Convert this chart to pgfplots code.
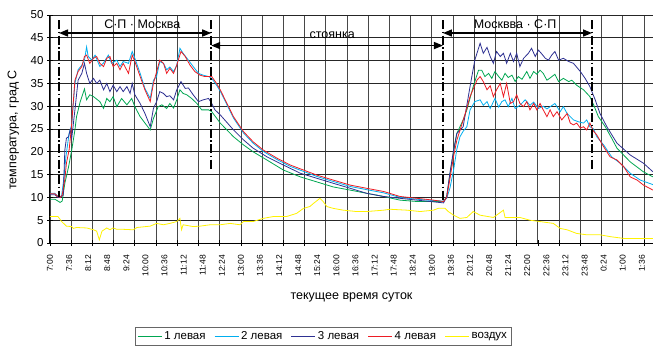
\documentclass[border=0pt]{standalone}
\usepackage{fontspec}
\setmainfont{Liberation Sans}
\usepackage{pgfplots}
\pgfplotsset{compat=1.18}
\usetikzlibrary{arrows.meta}
\definecolor{cgreen}{RGB}{0,166,81}
\definecolor{ccyan}{RGB}{0,174,239}
\definecolor{cblue}{RGB}{46,49,146}
\definecolor{cred}{RGB}{237,28,36}
\definecolor{cyellow}{RGB}{255,242,0}
\begin{document}
\begin{tikzpicture}
\begin{axis}[
  scale only axis, width=603pt, height=228pt,
  xmin=0, xmax=1137, ymin=0, ymax=50,
  axis x line*=bottom, axis y line*=left,
  axis line style={-, black, line width=1pt},
  xtick={0,36,...,1116},
  xticklabels={7:00,7:36,8:12,8:48,9:24,10:00,10:36,11:12,11:48,12:24,13:00,13:36,14:12,14:48,15:24,16:00,16:36,17:12,17:48,18:24,19:00,19:36,20:12,20:48,21:24,22:00,22:36,23:12,23:48,0:24,1:00,1:36},
  xticklabel style={rotate=90, anchor=east, font=\fontsize{8.5}{10}\selectfont, inner sep=1pt},
  xticklabel shift=8pt,
  major x tick style={draw=none},
  minor xtick={0,40,...,1120},
  xminorgrids=true, xmajorgrids=false,
  minor x grid style={black!72, line width=0.85pt},
  minor tick length=6pt, major tick length=6pt,
  ytick={0,5,...,50}, ymajorgrids=true,
  major y grid style={black!85, line width=0.85pt},
  tick align=center, tick style={black, line width=0.8pt},
  yticklabel style={font=\fontsize{11.5}{13}\selectfont},
  /pgf/number format/assume math mode=true,
  xlabel={текущее время суток},
  ylabel={температура, град С},
  label style={font=\fontsize{12.5}{14}\selectfont},
  xlabel style={at={(axis description cs:0.5,-0.24)}, anchor=center},
  ylabel style={at={(axis description cs:-0.061,0.496)}, anchor=center},
  legend columns=5,
  legend style={at={(axis description cs:0.141,-0.37)}, anchor=north west, draw=black!60, line width=0.6pt, font=\fontsize{11.5}{13}\selectfont, inner sep=2pt, /tikz/every even column/.append style={column sep=6.5pt}},
  legend image code/.code={\draw[#1, line width=1pt] (0pt,0pt) -- (24pt,0pt);},
  every axis plot/.append style={line width=0.8pt},
]
\addplot[cgreen] coordinates {
(0,9.6)(9,9.6)(15,9.2)(19,8.9)(23,9.2)(28,13.1)(35,16.7)(41,20.4)(44,22.6)(47,24.8)(50,27.7)(57,31)(65,33.8)(69,31.4)(75,32.5)(82,32.1)(94,31)(101,29.5)(107,31.7)(113,31)(119,32.1)(126,29.9)(135,31.7)(145,30.3)(154,31.7)(160,29.9)(170,27.7)(179,26.3)(189,24.8)(195,27.3)(204,29.9)(211,30.3)(220,29.5)(226,30.6)(233,29.6)(239,31.4)(245,33.6)(251,32.8)(258,32.5)(267,31.7)(277,30.6)(286,29.2)(299,29.2)(305,28.8)(321,26.3)(346,23.3)(365,21.5)(383,20)(409,18.2)(440,16)(472,14.5)(503,13.4)(534,12.3)(566,11.6)(597,10.9)(629,10.2)(660,9.4)(692,9.1)(742,9.1)
(748,10.2)(754,15)(761,20)(767,24)(779,27)(786,29.2)(798,34.3)(808,37.9)(814,37.9)(820,36.5)(827,37.2)(833,36.1)(839,37.6)(846,36.5)(852,35.7)(858,37.2)(864,36.3)(871,36.8)(877,35.4)(883,36.5)(890,35.9)(899,37.6)(905,36.1)(912,37.6)(918,37)(924,37.9)(930,37.2)(937,35.7)(943,36.2)(952,37)(959,35.4)(968,36.1)(978,35.4)(984,35.7)(993,34.6)(1006,33.6)(1018,32.1)(1025,30.3)(1034,27.7)(1047,25.5)(1059,23)(1069,20.8)(1094,17.8)(1119,15.6)(1137,14.5)
};
\addlegendentry{1 левая}
\addplot[ccyan] coordinates {
(0,10.9)(9,10.9)(15,10.2)(19,10)(22,10.5)(26,14)(30,18.9)(36,24)(41,26)(47,35)(53,38)(60,39)(65,40.1)(69,43)(72,40.9)(79,40.1)(85,41.2)(94,38.7)(101,39.5)(110,41.2)(116,39.4)(126,40.1)(132,38.7)(138,39.8)(148,39.4)(155,42)(160,40.5)(170,37.2)(179,33.9)(189,31.7)(195,35.7)(201,36.5)(207,39.8)(214,39.4)(220,38)(226,38.6)(233,37.6)(239,39)(245,42.7)(251,41.6)(261,40.1)(270,38.7)(280,37.2)(289,36.8)(299,36.5)(305,36.1)(314,34.6)(321,33.3)(346,27.4)(365,24.1)(383,21.9)(402,20.1)(428,18.3)(453,16.8)(478,15.7)(503,14.6)(534,13.5)(566,12.4)(597,11.7)(629,11)(660,10)(692,9.6)(723,9.3)(742,9.2)
(748,9.8)(754,12)(761,16)(767,20.5)(773,23.3)(779,24.5)(786,25.5)(792,29.2)(801,31)(811,31.4)(817,30.2)(824,31)(830,29.5)(839,31.7)(846,29.8)(852,31)(858,31.4)(864,29.9)(871,31.7)(877,29.5)(886,30.2)(896,31.4)(905,30.2)(912,30.9)(921,29.5)(930,30)(937,29.4)(952,30.6)(962,28.8)(968,29.9)(975,28.4)(987,27)(996,26.6)(1006,26.3)(1012,27)(1018,25.5)(1025,25)(1031,23.3)(1044,21.5)(1059,18.9)(1075,17.5)(1094,15.3)(1113,13.8)(1137,12.8)
};
\addlegendentry{2 левая}
\addplot[cblue] coordinates {
(0,10.6)(9,10.6)(15,10)(19,10)(25,10.5)(28,20.4)(31,23)(35,23.3)(38,24.8)(41,23)(47,29.2)(53,35.7)(60,37.2)(65,39.4)(69,37.2)(75,35)(82,36.1)(88,35)(94,35.7)(101,33.6)(107,35)(113,33.2)(119,34.6)(126,33.2)(132,34.3)(138,33.2)(145,34.3)(151,32.8)(155,35)(160,32.5)(170,30.6)(179,28.4)(189,25.5)(195,29.5)(201,31)(207,33.2)(214,32.8)(220,32.1)(226,32.3)(233,31.4)(239,33.6)(247,35.4)(255,33.9)(261,34)(270,32.5)(280,31)(289,31.4)(299,31.7)(305,30.6)(311,29.2)(321,28.1)(346,24.8)(365,22.6)(383,20.8)(409,18.9)(440,17.1)(472,15.3)(503,14.2)(534,13.1)(566,12)(597,10.9)(629,10.2)(660,9.8)(692,9.4)(742,8.8)
(748,10.2)(754,15.3)(761,20.4)(767,24)(779,25.5)(792,34.3)(801,40.1)(811,43.8)(817,41.6)(824,42.9)(830,40.9)(836,39.4)(842,42)(849,40.9)(855,41.6)(861,39.4)(868,41.6)(874,39.8)(880,41.6)(886,38.7)(893,40.5)(902,41.6)(908,42.7)(915,40.9)(921,42.3)(927,41.5)(934,40.5)(940,40.1)(946,41.2)(952,42)(959,40.1)(968,40.5)(978,39.8)(987,39.4)(1000,37.6)(1009,36.1)(1018,34.3)(1028,31.4)(1037,28.4)(1050,25.5)(1069,21.9)(1094,19.3)(1119,17.5)(1137,15.6)
};
\addlegendentry{3 левая}
\addplot[cred] coordinates {
(0,10.8)(9,10.8)(15,10.2)(19,10)(23,10.5)(28,14)(31,17.5)(36,20.4)(40,24.8)(47,35.7)(53,37.6)(60,38.7)(65,40.9)(69,41.2)(75,39.4)(82,40.5)(88,40.9)(94,39.4)(101,38.7)(107,40.5)(113,40.9)(119,38.7)(126,39.4)(132,38)(138,39.4)(148,37.2)(155,41.2)(160,39.8)(170,36.5)(179,33.6)(189,31)(195,35)(207,40.1)(214,39.4)(220,37.2)(226,38.3)(233,37.2)(239,39)(247,42)(255,40.9)(264,39)(273,37.6)(283,36.8)(292,36.5)(305,36.5)(314,35)(321,33.6)(346,27.7)(365,24.4)(383,22.2)(402,20.4)(428,18.6)(453,17.1)(478,16)(503,14.9)(534,13.8)(566,12.7)(597,12)(629,11.3)(660,10.2)(692,9.8)(723,9.4)(742,9.1)
(748,10)(754,14)(761,19)(767,22.5)(783,28.4)(792,32.1)(805,35.7)(811,36.5)(817,35.4)(824,33.6)(830,34.5)(836,32.1)(842,33.6)(849,35)(855,32.1)(861,35)(868,30.6)(874,31)(880,32.5)(886,30.6)(893,29.9)(899,31)(905,29.2)(912,30.6)(918,29.2)(924,30.6)(930,29.2)(937,27.7)(943,29.2)(949,27.7)(956,28.8)(965,27)(975,28.4)(981,26.3)(987,25.9)(993,26.3)(1000,25.2)(1006,25.5)(1012,24.8)(1018,26.3)(1025,24.5)(1031,23.7)(1044,21.1)(1056,18.9)(1069,18.2)(1082,16.7)(1094,14.5)(1107,13.8)(1119,12.7)(1137,11.6)
};
\addlegendentry{4 левая}
\addplot[cyellow] coordinates {
(0,5.8)(15,5.8)(22,4.7)(31,3.7)(41,3.6)(44,3.2)(50,3.4)(69,3.3)(82,2.9)(88,2.6)(93,0.7)(98,2.6)(107,3.3)(113,2.9)(119,3.3)(126,3)(138,3)(157,2.9)(164,3.4)(189,3.7)(201,4.3)(214,4)(226,4.3)(239,4.7)(245,5.4)(248,2.9)(251,4)(270,3.6)(283,3.7)(302,4)(321,4)(340,4.3)(358,4)(365,4.7)(383,4.7)(402,5.4)(421,5.8)(446,5.8)(465,6.5)(478,7.6)(490,8)(497,8.7)(509,9.8)(515,9.1)(522,8)(534,7.6)(553,7.2)(578,6.9)(597,6.9)(629,7.2)(641,7.4)(673,7.2)(698,6.9)(723,7.2)(732,7.6)(745,7.6)(751,6.9)(761,6.1)(773,5.4)(786,5.6)(798,6.9)(811,6.1)(836,5.6)(855,7.2)(858,5.6)(886,5.6)(905,5)(924,4.7)(949,4.3)(962,3.2)(975,2.9)(993,2.1)(1012,1.8)(1037,1.8)(1056,1.4)(1082,1)(1137,1)
};
\addlegendentry{воздух}
% annotations
\draw[black, line width=1.5pt, dash pattern=on 9pt off 2.5pt on 1.5pt off 2.5pt] (axis cs:17,48.9) -- (axis cs:17,10);
\draw[black, line width=1.5pt, dash pattern=on 9pt off 2.5pt on 1.5pt off 2.5pt] (axis cs:304,48.9) -- (axis cs:304,16);
\draw[black, line width=1.5pt, dash pattern=on 9pt off 2.5pt on 1.5pt off 2.5pt] (axis cs:741,48.9) -- (axis cs:741,9.4);
\draw[black, line width=1.5pt, dash pattern=on 9pt off 2.5pt on 1.5pt off 2.5pt] (axis cs:1022,48.9) -- (axis cs:1022,16);
\draw[{Triangle[length=9pt,width=7pt]}-{Triangle[length=9pt,width=7pt]}, line width=1.5pt] (axis cs:17,46.05) -- (axis cs:304,46.05);
\draw[{Triangle[length=9pt,width=7pt]}-{Triangle[length=9pt,width=7pt]}, line width=1.5pt] (axis cs:304,43.3) -- (axis cs:741,43.3);
\draw[{Triangle[length=9pt,width=7pt]}-{Triangle[length=9pt,width=7pt]}, line width=1.5pt] (axis cs:741,46.05) -- (axis cs:1022,46.05);
\node[font=\fontsize{12.5}{14}\selectfont, inner sep=0pt] at (axis cs:174,48) {С·П · Москва};
\node[font=\fontsize{12.5}{14}\selectfont, inner sep=0pt] at (axis cs:532,45.5) {стоянка};
\node[font=\fontsize{12.5}{14}\selectfont, inner sep=0pt] at (axis cs:877,48) {Москвва · С·П};
\end{axis}
\pgfresetboundingbox
\path (-50pt,-105pt) rectangle (603pt,243pt);
\end{tikzpicture}
\end{document}
